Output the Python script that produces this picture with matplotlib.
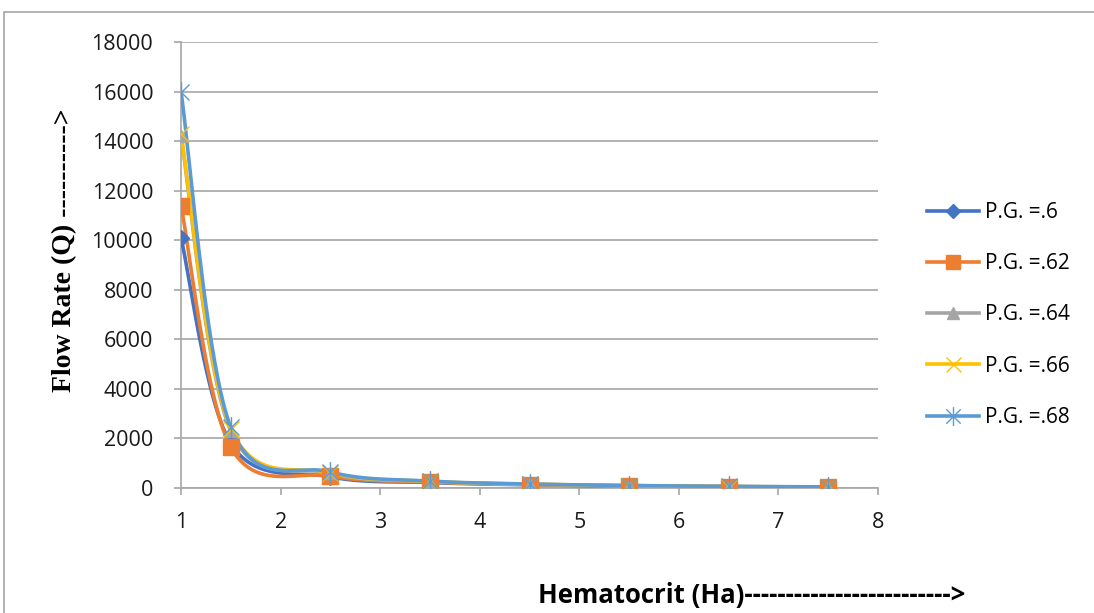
import numpy as np
import matplotlib
matplotlib.use("Agg")
import matplotlib.pyplot as plt
from matplotlib.lines import Line2D
from matplotlib.patches import Rectangle
from matplotlib.path import Path

# ---- data ----
hematocrit = [1, 1.5, 2.5, 3.5, 4.5, 5.5, 6.5, 7.5]
pg_060 = [10100, 1800, 450, 220, 130, 80, 50, 30]
pg_062 = [11400, 1650, 480, 240, 140, 85, 55, 35]
pg_064 = [14200, 2300, 600, 260, 150, 95, 60, 40]
pg_066 = [14300, 2400, 620, 270, 155, 95, 60, 40]
pg_068 = [16000, 2450, 650, 280, 160, 100, 65, 45]
series_labels = ["P.G. =.6", "P.G. =.62", "P.G. =.64", "P.G. =.66", "P.G. =.68"]
x_ticks = [1, 2, 3, 4, 5, 6, 7, 8]
y_ticks = [0, 2000, 4000, 6000, 8000, 10000, 12000, 14000, 16000, 18000]

colors = ["#4472C4", "#ED7D31", "#A5A5A5", "#FFC000", "#5B9BD5"]

# asterisk marker (x plus vertical bar), as in the spreadsheet style
asterisk = Path([(-1, -1), (1, 1), (-1, 1), (1, -1), (0, -1.3), (0, 1.3)],
                [Path.MOVETO, Path.LINETO, Path.MOVETO, Path.LINETO, Path.MOVETO, Path.LINETO])
markers = ["D", "s", "^", "x", asterisk]
msizes = [8, 11, 9, 12, 15]


def smooth(xs, ys, n=40):
    """Excel-style smoothed line (Bezier through the data points)."""
    xs = np.asarray(xs, float)
    ys = np.asarray(ys, float)
    P = np.column_stack([xs, ys])
    out = []
    for i in range(len(P) - 1):
        p0 = P[i - 1] if i > 0 else P[i]
        p1 = P[i]
        p2 = P[i + 1]
        p3 = P[i + 2] if i + 2 < len(P) else P[i + 1]
        c1 = p1 + (p2 - p0) / 6.0
        c2 = p2 - (p3 - p1) / 6.0
        t = np.linspace(0, 1, n)[:, None]
        seg = ((1 - t) ** 3) * p1 + 3 * ((1 - t) ** 2) * t * c1 + 3 * (1 - t) * t ** 2 * c2 + t ** 3 * p2
        out.append(seg if i == 0 else seg[1:])
    out = np.vstack(out)
    return out[:, 0], out[:, 1]


fig = plt.figure(figsize=(10.94, 6.13), dpi=100)
fig.patch.set_facecolor("white")
# outer frame
fig.add_artist(Rectangle((4 / 1094, -0.01), 1.1, (613 - 12) / 613 + 0.01,
                         transform=fig.transFigure, fill=False,
                         edgecolor="#A6A6A6", lw=1.2))

ax = fig.add_axes([181 / 1094, 1 - 488 / 613, (878 - 181) / 1094, (488 - 42) / 613])
all_series = [pg_060, pg_062, pg_064, pg_066, pg_068]
for s, c in zip(all_series, colors):
    sx, sy = smooth(hematocrit, s)
    ax.plot(sx, sy, color=c, lw=2.6, solid_capstyle="round", zorder=3)
for s, c, m, ms in zip(all_series, colors, markers, msizes):
    if not isinstance(m, str) or m == "x":
        ax.plot(hematocrit, s, ls="none", marker=m, ms=ms, color=c, mec=c,
                mfc="none", mew=1.0, zorder=4)
    else:
        ax.plot(hematocrit, s, ls="none", marker=m, ms=ms, color=c, mec=c, zorder=4)

ax.set_xlim(1, 8)
ax.set_ylim(0, 18000)
ax.set_xticks(x_ticks)
ax.set_yticks(y_ticks)
ax.set_xticklabels([str(v) for v in x_ticks])
ax.set_yticklabels([str(v) for v in y_ticks])
ax.grid(axis="y", color="#A6A6A6", lw=1.2)
ax.set_axisbelow(True)
for side in ["top", "right"]:
    ax.spines[side].set_visible(False)
ax.spines["left"].set_color("#A6A6A6")
ax.spines["bottom"].set_color("#A6A6A6")
ax.spines["left"].set_linewidth(1.2)
ax.spines["bottom"].set_linewidth(1.2)
ax.tick_params(axis="both", colors="#A6A6A6", length=5, width=1.2, labelcolor="#1a1a1a",
               labelsize=15.5)
for lab in ax.get_xticklabels() + ax.get_yticklabels():
    lab.set_fontfamily("Open Sans")
ax.tick_params(axis="y", pad=15)
ax.tick_params(axis="x", pad=12)

fig.text(65 / 1094, 1 - 250 / 613, "Flow Rate (Q) ---------->", rotation=90,
         ha="center", va="center", fontsize=20, fontweight="bold",
         family="Liberation Serif")
fig.text(538 / 1094, 1 - 595 / 613, "Hematocrit (Ha)------------------------->",
         ha="left", va="center", fontsize=18.5, fontweight="bold", family="Open Sans")

handles = []
for c, m, ms in zip(colors, markers, msizes):
    if not isinstance(m, str) or m == "x":
        handles.append(Line2D([], [], color=c, lw=2.6, marker=m, ms=ms * 0.9,
                              mec=c, mfc="none", mew=1.0))
    else:
        handles.append(Line2D([], [], color=c, lw=2.6, marker=m, ms=ms * 0.9, mec=c))
leg = fig.legend(handles, series_labels, loc="center left",
                 bbox_to_anchor=(908 / 1094, 1 - 315 / 613), frameon=False,
                 prop={"family": "Open Sans", "size": 15}, handlelength=2.5,
                 labelspacing=1.45, handletextpad=0.3)

fig.savefig("out.png", dpi=100)
